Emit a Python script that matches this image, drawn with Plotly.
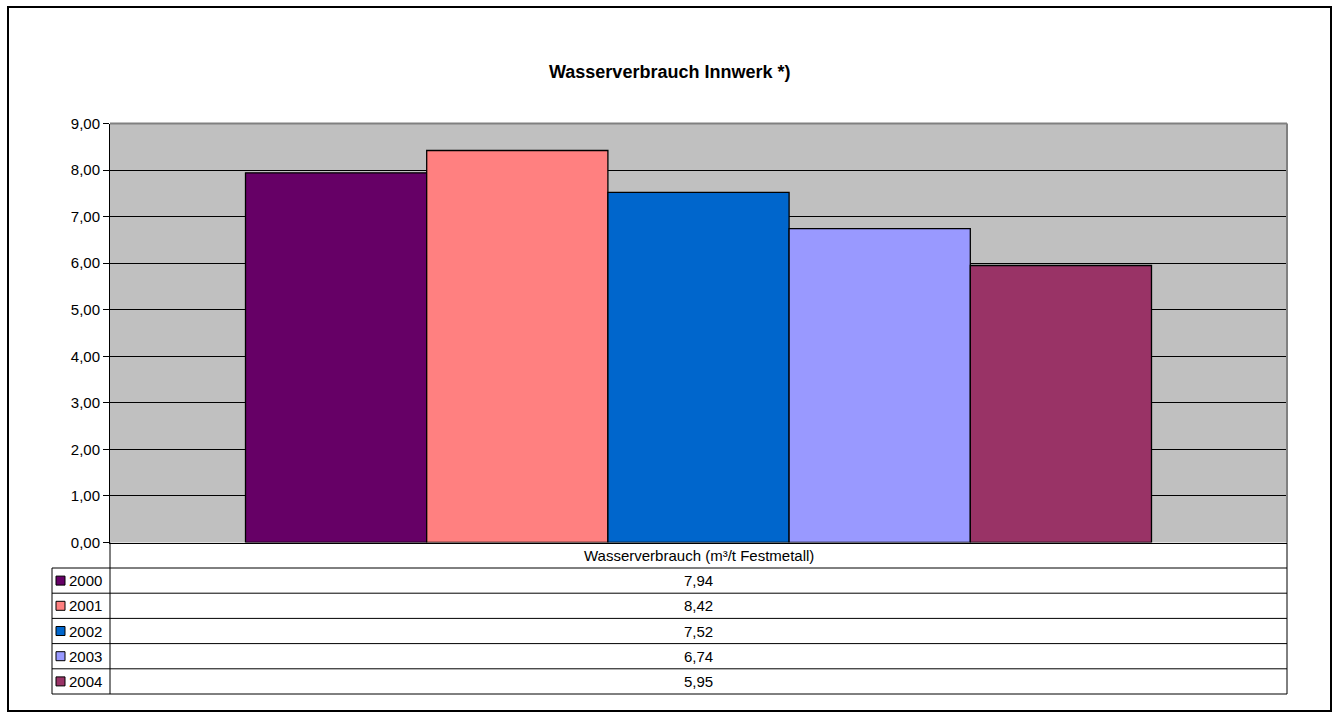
import plotly.graph_objects as go

# data
category = "Wasserverbrauch (m³/t Festmetall)"
years = ["2000", "2001", "2002", "2003", "2004"]
values = [7.94, 8.42, 7.52, 6.74, 5.95]
colors = ["#660066", "#FF8080", "#0066CC", "#9999FF", "#993366"]
y_ticks = [0, 1, 2, 3, 4, 5, 6, 7, 8, 9]

W, H = 1338, 720


def px(x):
    return x / W


def py(y):
    return 1 - y / H


# pixel layout of the Excel-like chart
PL, PR, PT, PB = 110, 1287, 123.5, 542.5
ROW_TOP = 568
ROW_H = 25.2
TAB_LEFT = 52

fig = go.Figure()
for yr, v, c in zip(years, values, colors):
    fig.add_trace(go.Bar(
        x=[category], y=[v], name=yr,
        marker=dict(color=c, line=dict(color="black", width=1.3)),
        showlegend=False,
    ))

font = dict(family="Liberation Sans, Arial, sans-serif", size=15, color="black")

shapes = []
annotations = []

# outer chart border
shapes.append(dict(type="rect", xref="paper", yref="paper",
                   x0=px(8), x1=px(1331), y0=py(7), y1=py(711),
                   line=dict(color="black", width=2)))
# plot area gray border (top + right)
shapes.append(dict(type="line", xref="paper", yref="paper",
                   x0=px(PL), x1=px(PR), y0=py(PT), y1=py(PT),
                   line=dict(color="#808080", width=2)))
shapes.append(dict(type="line", xref="paper", yref="paper",
                   x0=px(PR), x1=px(PR), y0=py(PT), y1=py(PB),
                   line=dict(color="#808080", width=2)))

# data table
tab_bottom = ROW_TOP + ROW_H * len(years)
shapes.append(dict(type="line", xref="paper", yref="paper",
                   x0=px(PL), x1=px(PL), y0=py(PB), y1=py(tab_bottom),
                   line=dict(color="black", width=1)))
shapes.append(dict(type="line", xref="paper", yref="paper",
                   x0=px(PR), x1=px(PR), y0=py(PB), y1=py(tab_bottom),
                   line=dict(color="black", width=1)))
shapes.append(dict(type="line", xref="paper", yref="paper",
                   x0=px(TAB_LEFT), x1=px(TAB_LEFT), y0=py(ROW_TOP), y1=py(tab_bottom),
                   line=dict(color="black", width=1)))
for i in range(len(years) + 1):
    yy = ROW_TOP + ROW_H * i
    shapes.append(dict(type="line", xref="paper", yref="paper",
                       x0=px(TAB_LEFT), x1=px(PR), y0=py(yy), y1=py(yy),
                       line=dict(color="black", width=1)))

annotations.append(dict(text=category, xref="paper", yref="paper",
                        x=px((PL + PR) / 2), y=py((PB + ROW_TOP) / 2),
                        showarrow=False, font=font, xanchor="center", yanchor="middle"))

for i, (yr, v, c) in enumerate(zip(years, values, colors)):
    cy = ROW_TOP + ROW_H * i + ROW_H / 2
    shapes.append(dict(type="rect", xref="paper", yref="paper",
                       x0=px(56), x1=px(65), y0=py(cy - 4.5), y1=py(cy + 4.5),
                       fillcolor=c, line=dict(color="black", width=1)))
    annotations.append(dict(text=yr, xref="paper", yref="paper",
                            x=px(67), y=py(cy), showarrow=False, font=font,
                            xanchor="left", yanchor="middle"))
    annotations.append(dict(text=f"{v:.2f}".replace(".", ","), xref="paper", yref="paper",
                            x=px((PL + PR) / 2), y=py(cy), showarrow=False, font=font,
                            xanchor="center", yanchor="middle"))

# title
annotations.append(dict(text="<b>Wasserverbrauch Innwerk *)</b>", xref="paper", yref="paper",
                        x=px(669.5), y=py(72), showarrow=False,
                        font=dict(family="Liberation Sans, Arial, sans-serif", size=18, color="black"),
                        xanchor="center", yanchor="middle"))

fig.update_layout(
    template="none",
    width=W, height=H,
    autosize=False,
    margin=dict(l=0, r=0, t=0, b=0, pad=0, autoexpand=False),
    paper_bgcolor="white",
    plot_bgcolor="#C0C0C0",
    barmode="group",
    bargap=1 - 906 / 1177,
    bargroupgap=0,
    separators=",.",
    font=font,
    xaxis=dict(
        domain=[px(PL), px(PR)],
        showticklabels=False,
        showgrid=False,
        showline=True,
        linecolor="black",
        linewidth=1,
        ticks="",
        zeroline=False,
        automargin=False,
    ),
    yaxis=dict(
        domain=[py(PB), py(PT)],
        range=[0, 9],
        tickvals=y_ticks,
        tickformat=".2f",
        showgrid=True,
        gridcolor="black",
        gridwidth=1,
        showline=True,
        linecolor="black",
        linewidth=1,
        ticks="outside",
        ticklen=6,
        tickcolor="black",
        zeroline=False,
        tickfont=font,
        automargin=False,
    ),
    shapes=shapes,
    annotations=annotations,
)

# put the figure at the very top-left corner of the page
post = ("document.body.style.margin='0';document.body.style.overflow='hidden';"
        "var gd=document.getElementById('{plot_id}');"
        "gd.style.position='absolute';gd.style.left='0px';gd.style.top='0px';")
fig.write_html("out.html", post_script=post, config={"displayModeBar": False})
